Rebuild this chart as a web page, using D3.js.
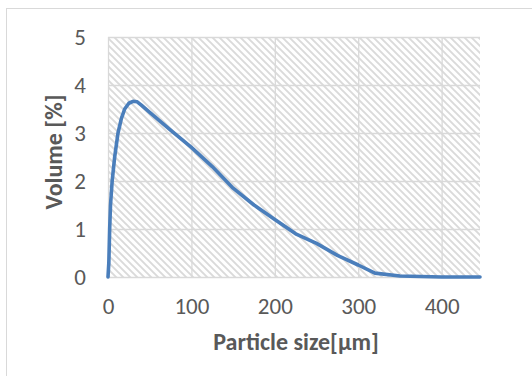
<!DOCTYPE html>
<html><head><meta charset="utf-8">
<script src="https://cdn.jsdelivr.net/npm/d3@7"></script>
<style>body{margin:0;background:#fff}svg{display:block}</style>
</head><body>
<script>
const sizes =   [0, 1, 2, 3, 5, 8, 12, 16, 20, 25, 30, 35, 40, 50, 75, 100, 125, 150, 175, 200, 225, 250, 275, 300, 320, 350, 400, 446];
const volumes = [0, 0.3, 1.0, 1.5, 2.0, 2.5, 3.0, 3.3, 3.5, 3.62, 3.66, 3.65, 3.58, 3.43, 3.06, 2.7, 2.3, 1.85, 1.5, 1.2, 0.9, 0.7, 0.45, 0.25, 0.08, 0.02, 0, 0];
const xTicks = [0, 100, 200, 300, 400];
const yTicks = [0, 1, 2, 3, 4, 5];
const xTitle = "Particle size[μm]";
const yTitle = "Volume [%]";

(function(){
const W = 532, H = 376;
const svg = d3.select("body").append("svg").attr("width", W).attr("height", H);
const defs = svg.append("defs");
const P = 7;
const pat = defs.append("pattern").attr("id","hatch").attr("patternUnits","userSpaceOnUse")
  .attr("width",P).attr("height",P);
pat.append("rect").attr("width",P).attr("height",P).attr("fill","#fff");
pat.append("path").attr("d",`M-2,-2 L${P+2},${P+2} M-2,${P-2} L2,${P+2} M${P-2},-2 L${P+2},2`)
  .attr("stroke","#dadada").attr("stroke-width",1.9);

svg.append("rect").attr("x",6.5).attr("y",8.5).attr("width",W+10).attr("height",H+10)
  .attr("fill","#fff").attr("stroke","#d9d9d9");

const pl = 108, pr = 480, pt = 37, pb = 277;
const x = d3.scaleLinear().domain([0, 446]).range([pl, pr]);
const y = d3.scaleLinear().domain([0, 5]).range([pb, pt]);

svg.append("rect").attr("x",pl).attr("y",pt).attr("width",pr-pl).attr("height",pb-pt)
  .attr("fill","url(#hatch)");

const font = "Carlito, Calibri, Lato, sans-serif";
const gy = svg.append("g").attr("transform",`translate(${pl},0)`)
  .call(d3.axisLeft(y).tickValues(yTicks).tickSize(-(pr-pl)).tickPadding(22).tickFormat(d3.format("d")));
const gx = svg.append("g").attr("transform",`translate(0,${pb})`)
  .call(d3.axisBottom(x).tickValues(xTicks).tickSize(-(pb-pt)).tickFormat(d3.format("d")));
[gx, gy].forEach(g => {
  g.select(".domain").remove();
  g.selectAll(".tick line").attr("stroke","#d9d9d9").attr("stroke-width",1.3);
  g.selectAll(".tick text").attr("fill","#595959").style("font-family",font).style("font-size","23px");
});
gx.selectAll(".tick text").attr("y",37).attr("dy",0);

svg.append("path").datum(sizes.map((s,i)=>[s,volumes[i]]))
  .attr("fill","none").attr("stroke","#4a7ebb").attr("stroke-width",3.6)
  .attr("stroke-linejoin","round").attr("stroke-linecap","round")
  .attr("d", d3.line().x(d=>x(d[0])).y(d=>y(d[1])));

svg.append("text").attr("x",296).attr("y",350).attr("text-anchor","middle")
  .attr("fill","#595959").style("font-family",font).style("font-size","24px").style("font-weight","bold")
  .text(xTitle);
svg.append("text").attr("transform",`translate(62,152) rotate(-90)`).attr("text-anchor","middle")
  .attr("fill","#595959").style("font-family",font).style("font-size","24px").style("font-weight","bold")
  .text(yTitle);
})();
</script>
</body></html>
